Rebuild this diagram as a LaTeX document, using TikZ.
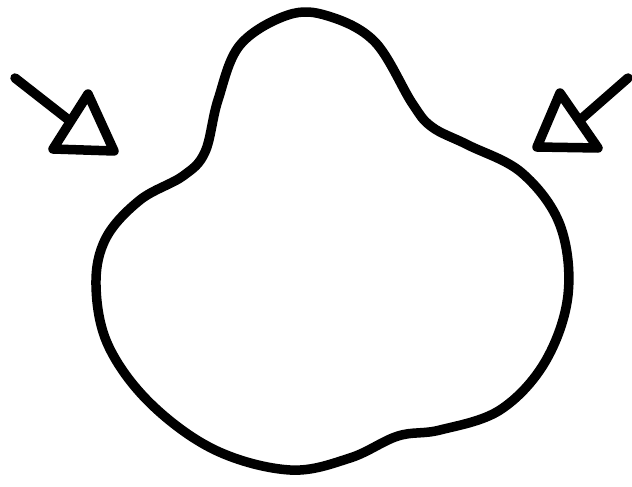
\documentclass[tikz,border=0pt]{standalone}
\begin{document}
\begin{tikzpicture}[x=1pt,y=-1pt,
  ink/.style={line width=9.5pt,line cap=round,line join=round,black}]
\useasboundingbox (0,0) rectangle (632,487);
\fill[white] (0,0) rectangle (632,487);
% blob
\draw[ink] plot[smooth cycle,tension=0.6] coordinates {
 (288,15) (240,45) (218,100) (205,152) (183,176) (140,200) (106,238) (96,285) (108,345)
 (150,403) (215,450) (290,470) (350,458) (398,436) (440,430) (500,410) (545,362)
 (568,295) (560,225) (522,173) (468,145) (432,127) (412,103) (375,42) (328,16)};
% left arrow
\coordinate (la) at (15,78);
\coordinate (lb) at (70,121);
\draw[ink] (la) -- (lb);
\draw[ink] (88,94) -- (114,151) -- (53,149) -- cycle;
% right arrow
\coordinate (ra) at (628,78);
\coordinate (rb) at (580,120);
\draw[ink] (ra) -- (rb);
\draw[ink] (560,93) -- (598,148) -- (537,147) -- cycle;
\end{tikzpicture}
\end{document}
